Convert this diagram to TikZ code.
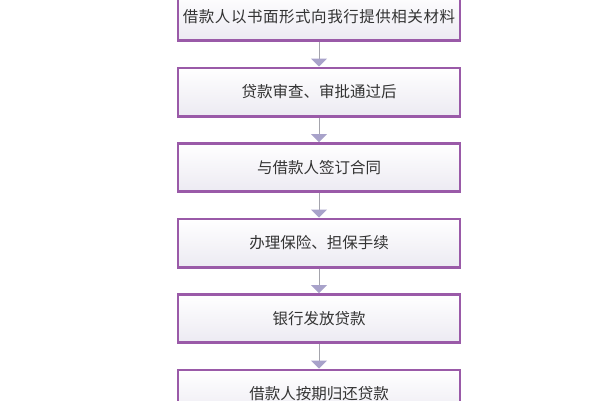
\documentclass[tikz,border=0pt]{standalone}
\usepackage{fontspec}
\setmainfont{Noto Sans CJK SC}
\usepackage{tikz}
\usetikzlibrary{chains,arrows.meta,shadows}
\definecolor{boxborder}{HTML}{9A5AA8}
\definecolor{boxbottom}{HTML}{ECEAF2}
\definecolor{boxglow}{HTML}{E6C8EC}
\definecolor{tipfill}{HTML}{A8A2CA}
\definecolor{stemline}{HTML}{A4A4AC}
\definecolor{labeltext}{HTML}{333333}
\begin{document}
\begin{tikzpicture}[
x=1pt,y=1pt,
stepbox/.style={
  draw=boxborder,
  line width=2.6pt,
  top color=white,
  bottom color=boxbottom,
  minimum width=282pt,
  minimum height=48.4pt,
  text=labeltext,
  font=\fontsize{15.5}{18}\selectfont,
  drop shadow={shadow xshift=0.8pt,shadow yshift=-0.8pt,fill=boxglow,opacity=0.8}
  },
flowarrow/.style={
  draw=stemline,
  line width=1pt,
  -{Triangle[width=16pt,length=8pt,color=tipfill]}
  },
node distance=24.5pt,
start chain=going below
]
\useasboundingbox (0,0) rectangle (600,-400);
\node[stepbox,on chain] (s1) at (319,-16.5) {{\addfontfeature{LetterSpace=3.5}借款人以书面形式向我行提供相关材料}};
\foreach \Value/\Text in {2/贷款审查、审批通过后,3/与借款人签订合同,4/办理保险、担保手续,5/银行发放贷款,6/借款人按期归还贷款}
  \node[stepbox,on chain] (s\Value) {\Text};
\foreach \Value [count=\Next from 2] in {1,...,5}
  \draw[flowarrow] (s\Value) -- (s\Next);
\end{tikzpicture}
\end{document}
